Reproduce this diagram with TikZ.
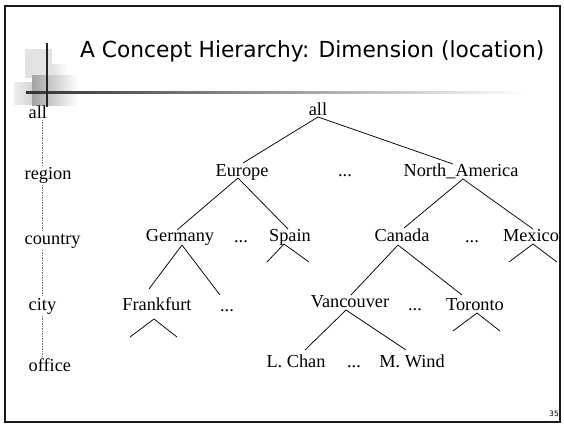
\documentclass[tikz,border=0pt]{standalone}
\usepackage{fontspec}
\setmainfont{Liberation Serif}
\newfontfamily\titlefont{DejaVu Sans}
\usetikzlibrary{calc}
\begin{document}
\begin{tikzpicture}[x=1pt,y=-1pt,
  lab/.style={font=\fontsize{18.3}{20}\selectfont, inner sep=0pt, anchor=base},
  lev/.style={font=\fontsize{18.3}{20}\selectfont, inner sep=1.5pt, anchor=base west},
  conn/.style={line width=0.75pt, black},
  dashline/.style={draw=black!55, line width=0.5pt, dash pattern=on 1.5pt off 1pt}]
\useasboundingbox (0,0) rectangle (564,424);
% frame
\draw[line width=1.8pt, black!90] (5,6) rectangle (560,422);
\draw[line width=1.2pt, black!90] (4.6,6) -- (4.6,422);
% decorative squares
\fill[gray!22] (25,49) rectangle (52,78);
\shade[left color=gray!22, right color=white] (52,64) rectangle (68,78);
\shade[left color=gray!14, right color=gray!34] (14,82) rectangle (32,104);
\shade[left color=gray!72, right color=white] (32,75) rectangle (78,105);
\shade[left color=black!80, right color=white] (26,91) rectangle (528,93);
\draw[line width=1.3pt, black!85] (47,43) -- (47,107);
% title
\node[anchor=base west, inner sep=0pt] (title) at (80,57.5)
  {\resizebox{464pt}{16.8pt}{\titlefont A Concept Hierarchy: Dimension (location)}};
\node[font=\titlefont\fontsize{7.5}{9}\selectfont, inner sep=0pt] (pg) at (554,414) {35};
% level labels
\node[lev] (lall) at (27,118) {all};
\node[lev] (lregion) at (23,179) {region};
\node[lev] (lcountry) at (23,244) {country};
\node[lev] (lcity) at (27,310) {city};
\node[lev] (loffice) at (27,371) {office};
\coordinate (dx) at (42,0);
\draw[dashline] (lall.south -| dx) -- (lregion.north -| dx);
\draw[dashline] (lregion.south -| dx) -- (lcountry.north -| dx);
\draw[dashline] (lcountry.south -| dx) -- (lcity.north -| dx);
\draw[dashline] (lcity.south -| dx) -- (loffice.north -| dx);
% tree nodes
\node[lab] (all) at (318,115) {all};
\node[lab] (eu) at (242,176) {Europe};
\node[lab] (d1) at (345,176) {...};
\node[lab] (na) at (461,176) {North\_America};
\node[lab] (ger) at (180,241) {Germany};
\node[lab] (d2) at (241,242) {...};
\node[lab] (sp) at (290,241) {Spain};
\node[lab] (can) at (402,241) {Canada};
\node[lab] (d3) at (472,242) {...};
\node[lab] (mex) at (531,241) {Mexico};
\node[lab] (fra) at (157,310) {Frankfurt};
\node[lab] (d4) at (227,311) {...};
\node[lab] (van) at (350,307) {Vancouver};
\node[lab] (d5) at (415,310) {...};
\node[lab] (tor) at (475,310) {Toronto};
\node[lab] (lc) at (296,367) {L. Chan};
\node[lab] (d6) at (354,367) {...};
\node[lab] (mw) at (412,367) {M. Wind};
% connectors
\draw[conn] ($(all.base)+(0,2)$) -- ($(eu.base)+(1,-13)$);
\draw[conn] ($(all.base)+(0,2)$) -- ($(na.base)+(-8,-12)$);
\draw[conn] ($(eu.base)+(-4,2)$) -- ($(ger.base)+(-3,-11)$);
\draw[conn] ($(eu.base)+(-4,2)$) -- ($(sp.base)+(-2,-12)$);
\draw[conn] ($(na.base)+(2,3)$) -- ($(can.base)+(2,-13)$);
\draw[conn] ($(na.base)+(2,3)$) -- ($(mex.base)+(2,-12)$);
\draw[conn] ($(ger.base)+(2,4)$) -- ($(fra.base)+(-8,-21)$);
\draw[conn] ($(ger.base)+(2,4)$) -- ($(d4.base)+(-7,-16)$);
\draw[conn] ($(can.base)+(-4,4)$) -- ($(van.base)+(1,-12)$);
\draw[conn] ($(can.base)+(-4,4)$) -- ($(tor.base)+(-13,-15)$);
\draw[conn] ($(van.base)+(-4,3)$) -- ($(lc.base)+(9,-17)$);
\draw[conn] ($(van.base)+(-4,3)$) -- ($(mw.base)+(-6,-17)$);
% open subtrees
\draw[conn] ($(sp.base)+(-23,21)$) -- ($(sp.base)+(-6,3)$) -- ($(sp.base)+(19,21)$);
\draw[conn] ($(mex.base)+(-22,21)$) -- ($(mex.base)+(2,3)$) -- ($(mex.base)+(26,21)$);
\draw[conn] ($(fra.base)+(-27,27)$) -- ($(fra.base)+(-3,9)$) -- ($(fra.base)+(20,27)$);
\draw[conn] ($(tor.base)+(-22,21)$) -- ($(tor.base)+(2,3)$) -- ($(tor.base)+(25,21)$);
\end{tikzpicture}
\end{document}
